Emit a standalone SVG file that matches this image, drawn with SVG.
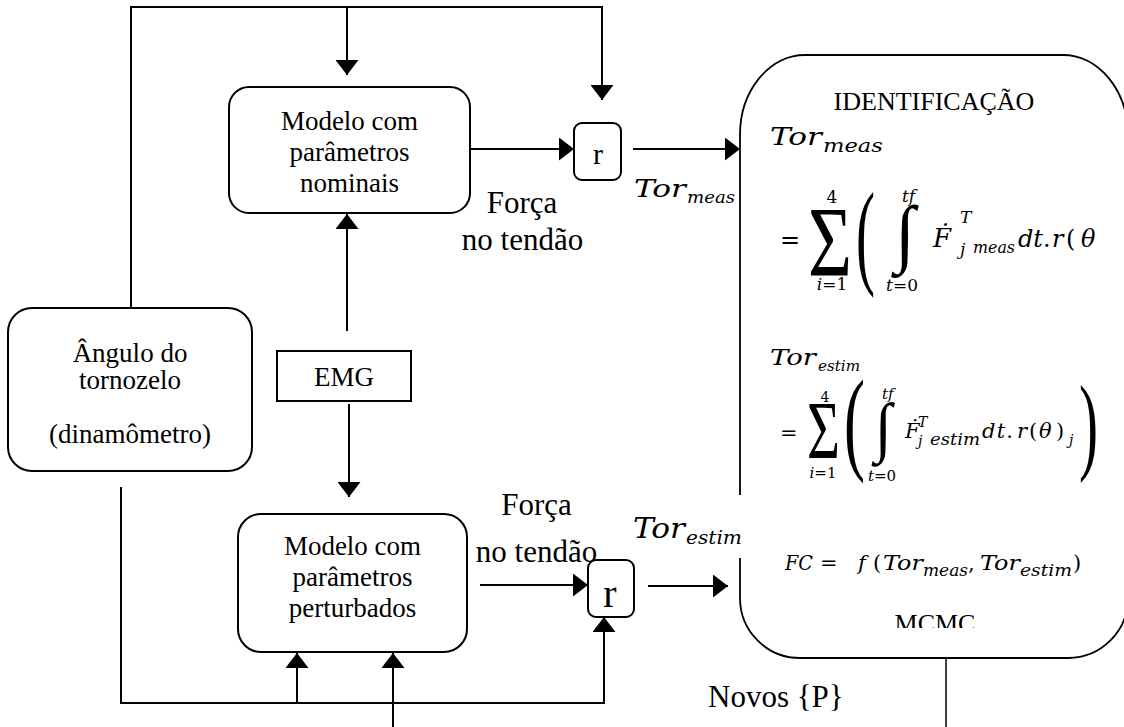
<svg xmlns="http://www.w3.org/2000/svg" width="1124" height="727" viewBox="0 0 1124 727">
<defs>
<style>
.t{font-family:"Liberation Serif","Times New Roman",serif;fill:#000}
.m{font-family:"DejaVu Serif","Liberation Serif",serif;font-style:italic;fill:#000}
.u{font-style:normal}
.box{fill:#fff;stroke:#000;stroke-width:2}
.ln{fill:none;stroke:#000;stroke-width:2}
.c{text-anchor:middle}
</style>
<marker id="ah" viewBox="0 0 15 23" refX="15" refY="11.5" markerWidth="15" markerHeight="23" orient="auto" markerUnits="userSpaceOnUse">
<path d="M0,0 L15,11.5 L0,23 Z" fill="#000"/>
</marker>
<clipPath id="mcclip"><rect x="850" y="590" width="170" height="38"/></clipPath>
</defs>
<rect width="1124" height="727" fill="#fff"/>

<g id="connectors">
<path class="ln" d="M131,308 V7 H602 V100" marker-end="url(#ah)"/>
<path class="ln" d="M347,7 V75" marker-end="url(#ah)"/>
<path class="ln" d="M467,149 H574" marker-end="url(#ah)"/>
<path class="ln" d="M633,149 H740" marker-end="url(#ah)"/>
<path class="ln" d="M347,331 V214" marker-end="url(#ah)"/>
<path class="ln" d="M349,404 V497" marker-end="url(#ah)"/>
<path class="ln" d="M121,487 V703 H604 V617" marker-end="url(#ah)"/>
<path class="ln" d="M297,703 V653" marker-end="url(#ah)"/>
<path class="ln" d="M393,727 V653" marker-end="url(#ah)"/>
<path class="ln" d="M480,585 H588" marker-end="url(#ah)"/>
<path class="ln" d="M648,586 H728" marker-end="url(#ah)"/>
<path fill="none" stroke="#000" stroke-width="1.5" d="M946,658 V727"/>
</g>

<g id="n-nominal">
<rect class="box" x="229" y="87" width="241" height="126" rx="20" ry="20"/>
<text class="t c" font-size="27" x="349.5" y="130">Modelo com</text>
<text class="t c" font-size="27" x="349.5" y="161">parâmetros</text>
<text class="t c" font-size="27" x="349.5" y="192">nominais</text>
</g>

<g id="n-r1">
<rect class="box" x="574" y="123" width="47" height="57" rx="8" ry="8"/>
<text class="t c" font-size="30" x="598" y="164">r</text>
</g>

<g id="n-angulo">
<rect class="box" x="8" y="308" width="244" height="163" rx="24" ry="24"/>
<text class="t c" font-size="27" x="130" y="362">Ângulo do</text>
<text class="t c" font-size="27" x="130" y="389">tornozelo</text>
<text class="t c" font-size="27" x="130" y="443">(dinamômetro)</text>
</g>

<g id="n-emg">
<rect class="box" x="277" y="351" width="134" height="50"/>
<text class="t c" font-size="27" x="344" y="386">EMG</text>
</g>

<g id="n-perturbados">
<rect class="box" x="238" y="514" width="229" height="138" rx="23" ry="23"/>
<text class="t c" font-size="27" x="352.5" y="555">Modelo com</text>
<text class="t c" font-size="27" x="352.5" y="586">parâmetros</text>
<text class="t c" font-size="27" x="352.5" y="617">perturbados</text>
</g>

<g id="n-r2">
<rect class="box" x="588" y="560" width="46" height="57" rx="8" ry="8"/>
<text class="t c" font-size="40" x="610" y="607">r</text>
</g>

<g id="n-identificacao">
<path fill="#fff" stroke="#000" stroke-width="1.8" d="M805,55 H1063 A65,80 0 0 1 1128,135 V598 A60,60 0 0 1 1068,658 H800 A60,60 0 0 1 740,598 V135 A65,80 0 0 1 805,55 Z"/>
<rect x="735" y="495" width="10" height="63" fill="#fff"/>
<text class="t c" font-size="26" x="934" y="110">IDENTIFICAÇÃO</text>

<text class="m" font-size="25" x="770" y="145" textLength="52" lengthAdjust="spacingAndGlyphs">Tor</text>
<text class="m" font-size="19" x="823" y="152" textLength="60" lengthAdjust="spacingAndGlyphs">meas</text>

<text class="m u" font-size="24" x="780" y="248">=</text>
<text class="t" font-size="100" x="808" y="275" textLength="44" lengthAdjust="spacingAndGlyphs">Σ</text>
<text class="m u c" font-size="17" x="832" y="203">4</text>
<text class="m c" font-size="17" x="832" y="290">i<tspan class="u">=1</tspan></text>
<text class="t" font-size="117" x="856" y="273" textLength="19" lengthAdjust="spacingAndGlyphs">(</text>
<text class="m" font-size="17" x="902" y="202">tf</text>
<text class="t" font-size="75" x="895" y="258" textLength="20" lengthAdjust="spacingAndGlyphs">∫</text>
<text class="m c" font-size="17" x="902" y="291">t<tspan class="u">=0</tspan></text>
<text class="m" font-size="26" x="933" y="247">Ḟ</text>
<text class="m" font-size="17" x="960" y="223">T</text>
<text class="m" font-size="17" x="960" y="255">j</text>
<text class="m" font-size="17" x="973" y="253" textLength="42" lengthAdjust="spacingAndGlyphs">meas</text>
<text class="m" font-size="24" x="1018" y="247">dt<tspan class="u">.</tspan></text>
<text class="m" font-size="24" x="1052" y="247">r</text>
<text class="m u" font-size="24" x="1066" y="247">(</text>
<text class="m" font-size="24" x="1081" y="247">θ</text>

<text class="m" font-size="23" x="770" y="365" textLength="46" lengthAdjust="spacingAndGlyphs">Tor</text>
<text class="m" font-size="15" x="818" y="371" textLength="42" lengthAdjust="spacingAndGlyphs">estim</text>
<text class="m u" font-size="21" x="780" y="440">=</text>
<text class="t" font-size="83" x="807" y="458" textLength="33" lengthAdjust="spacingAndGlyphs">Σ</text>
<text class="m u c" font-size="14" x="825" y="402">4</text>
<text class="m c" font-size="15" x="823" y="478">i<tspan class="u">=1</tspan></text>
<text class="t" font-size="114" x="844" y="459" textLength="21" lengthAdjust="spacingAndGlyphs">(</text>
<text class="m" font-size="15" x="882" y="399">tf</text>
<text class="t" font-size="66" x="875" y="449" textLength="17" lengthAdjust="spacingAndGlyphs">∫</text>
<text class="m c" font-size="15" x="882" y="481">t<tspan class="u">=0</tspan></text>
<text class="m" font-size="21" x="905" y="438">Ḟ</text>
<text class="m" font-size="14" x="918" y="427">T</text>
<text class="m" font-size="14" x="918" y="446">j</text>
<text class="m" font-size="16" x="930" y="445" textLength="50" lengthAdjust="spacingAndGlyphs">estim</text>
<text class="m" font-size="21" x="982" y="438" textLength="31">dt<tspan class="u">.</tspan></text>
<text class="m" font-size="21" x="1017" y="438">r</text>
<text class="m u" font-size="21" x="1029" y="438">(</text>
<text class="m" font-size="21" x="1039" y="438">θ</text>
<text class="m u" font-size="21" x="1056" y="438">)</text>
<text class="m" font-size="14" x="1069" y="445">j</text>
<text class="t" font-size="108" x="1079" y="460" textLength="19" lengthAdjust="spacingAndGlyphs">)</text>

<text class="m" font-size="21" x="785" y="570" textLength="28" lengthAdjust="spacingAndGlyphs">FC</text>
<text class="m u" font-size="21" x="820" y="570">=</text>
<text class="m" font-size="21" x="858" y="570">f</text>
<text class="m u" font-size="21" x="873" y="570">(</text>
<text class="m" font-size="21" x="883" y="570" textLength="40" lengthAdjust="spacingAndGlyphs">Tor</text>
<text class="m" font-size="16" x="923" y="576" textLength="45" lengthAdjust="spacingAndGlyphs">meas</text>
<text class="m u" font-size="21" x="968" y="570">,</text>
<text class="m" font-size="21" x="980" y="570" textLength="40" lengthAdjust="spacingAndGlyphs">Tor</text>
<text class="m" font-size="17" x="1020" y="576" textLength="52" lengthAdjust="spacingAndGlyphs">estim</text>
<text class="m u" font-size="21" x="1073" y="570">)</text>

<text class="t c" font-size="26" x="935" y="632" clip-path="url(#mcclip)">MCMC</text>
</g>

<g id="labels">
<text class="t c" font-size="31" x="522" y="213">Força</text>
<text class="t c" font-size="31" x="522.5" y="250">no tendão</text>
<text class="m" font-size="25" x="634" y="197" textLength="52" lengthAdjust="spacingAndGlyphs">Tor</text>
<text class="m" font-size="17" x="687" y="203" textLength="48" lengthAdjust="spacingAndGlyphs">meas</text>
<text class="t c" font-size="31" x="536.5" y="515">Força</text>
<text class="t c" font-size="31" x="536.5" y="562">no tendão</text>
<text class="m" font-size="28" x="633" y="538" textLength="52" lengthAdjust="spacingAndGlyphs">Tor</text>
<text class="m" font-size="19" x="686" y="544" textLength="56" lengthAdjust="spacingAndGlyphs">estim</text>
<text class="t" font-size="31" x="708" y="707">Novos {P}</text>
</g>
</svg>
